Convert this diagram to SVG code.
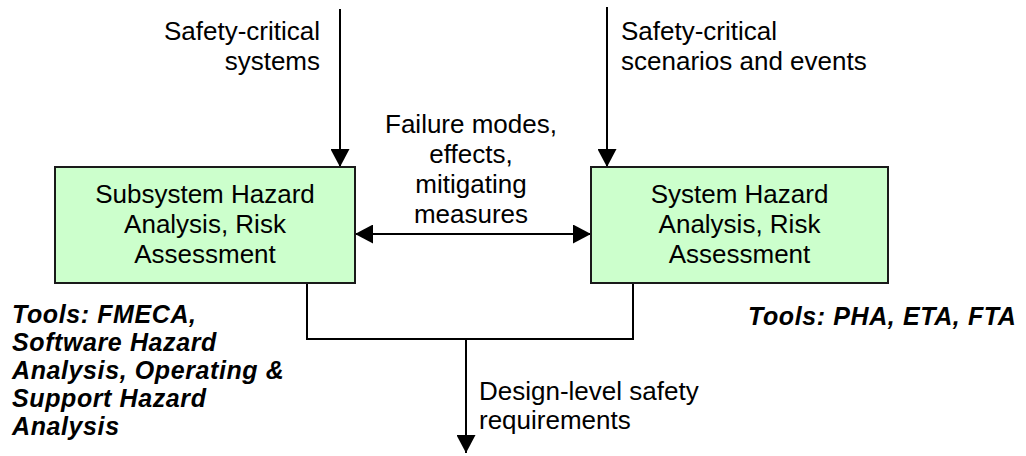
<svg xmlns="http://www.w3.org/2000/svg" width="1026" height="456" viewBox="0 0 1026 456">
<style>
text{font-family:"Liberation Sans",Arial,sans-serif;font-size:26px;fill:#000}
.c{text-anchor:middle}
.r{text-anchor:end}
.b{font-weight:bold;font-style:italic;font-size:25px;letter-spacing:0.6px}
.box{fill:#ccffcc;stroke:#1a1a1a;stroke-width:2}
.ln{fill:none;stroke:#000;stroke-width:2}
</style>
<defs>
<marker id="ah" viewBox="0 0 18 19" refX="18" refY="9.5" markerWidth="18" markerHeight="19" markerUnits="userSpaceOnUse" orient="auto-start-reverse">
<path d="M0,0 L18,9.5 L0,19 Z" fill="#000"/>
</marker>
</defs>
<rect width="1026" height="456" fill="#fff"/>
<g id="connectors">
<line class="ln" x1="340" y1="9" x2="340" y2="167" marker-end="url(#ah)"/>
<line class="ln" x1="607" y1="7" x2="607" y2="167" marker-end="url(#ah)"/>
<line class="ln" x1="355" y1="234" x2="591" y2="234" marker-start="url(#ah)" marker-end="url(#ah)"/>
<polyline class="ln" points="307,283 307,339 633,339 633,283"/>
<line class="ln" x1="466" y1="339" x2="466" y2="453" marker-end="url(#ah)"/>
</g>
<g id="labels">
<text class="r" x="320" y="40">Safety-critical</text>
<text class="r" x="320" y="70">systems</text>
<text x="621" y="40">Safety-critical</text>
<text x="621" y="70">scenarios and events</text>
<text class="c" x="471" y="133">Failure modes,</text>
<text class="c" x="471" y="163">effects,</text>
<text class="c" x="471" y="193">mitigating</text>
<text class="c" x="471" y="223">measures</text>
<text x="479" y="400">Design-level safety</text>
<text x="479" y="429">requirements</text>
</g>
<g id="node-subsystem">
<rect class="box" x="55" y="167" width="300" height="116"/>
<text class="c" x="205" y="203">Subsystem Hazard</text>
<text class="c" x="205" y="233">Analysis, Risk</text>
<text class="c" x="205" y="263">Assessment</text>
</g>
<g id="node-system">
<rect class="box" x="591" y="167" width="297" height="116"/>
<text class="c" x="739.5" y="203">System Hazard</text>
<text class="c" x="739.5" y="233">Analysis, Risk</text>
<text class="c" x="739.5" y="263">Assessment</text>
</g>
<g id="tools-left">
<text class="b" x="12" y="323">Tools: FMECA,</text>
<text class="b" x="12" y="351">Software Hazard</text>
<text class="b" x="12" y="379">Analysis, Operating &amp;</text>
<text class="b" x="12" y="407">Support Hazard</text>
<text class="b" x="12" y="435">Analysis</text>
</g>
<g id="tools-right">
<text class="b" x="748" y="325">Tools: PHA, ETA, FTA</text>
</g>
</svg>
